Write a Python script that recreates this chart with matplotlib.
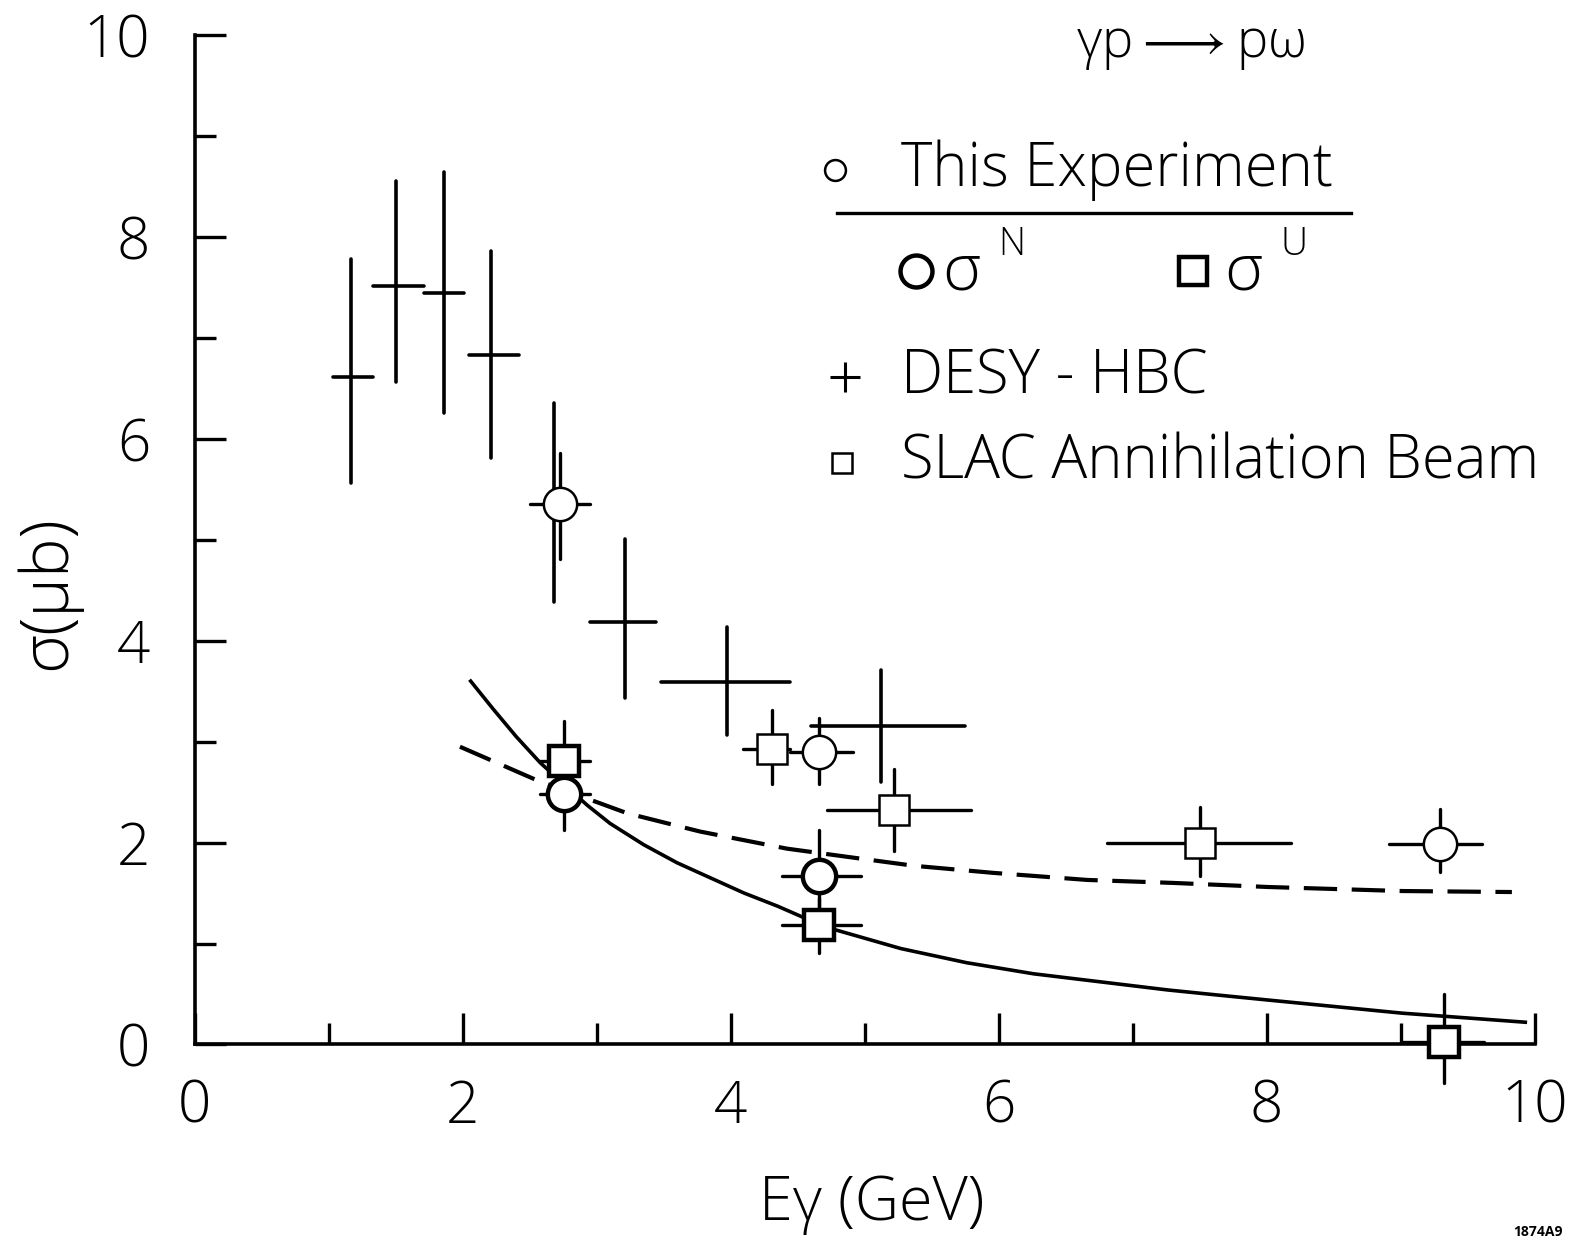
import matplotlib
matplotlib.use("Agg")
import matplotlib.pyplot as plt
import numpy as np

# DESY-HBC points: centre, y error limits, x bin edges
desy_x = [1.17, 1.50, 1.86, 2.21, 2.68, 3.21, 3.97, 5.12]
desy_y = [6.61, 7.52, 7.45, 6.83, 5.36, 4.19, 3.59, 3.16]
desy_ylo = [5.56, 6.56, 6.26, 5.81, 4.38, 3.43, 3.07, 2.60]
desy_yhi = [7.78, 8.56, 8.64, 7.86, 6.36, 5.01, 4.14, 3.71]
desy_xlo = [1.03, 1.33, 1.71, 2.05, 2.68, 2.95, 3.48, 4.60]
desy_xhi = [1.33, 1.71, 2.01, 2.42, 2.68, 3.44, 4.44, 5.75]

# this experiment, total
exp_x = [2.73, 4.66, 9.29]
exp_y = [5.36, 2.90, 1.99]
exp_ylo = [4.81, 2.58, 1.71]
exp_yhi = [5.86, 3.23, 2.33]
exp_xlo = [2.50, 4.44, 8.91]
exp_xhi = [2.95, 4.91, 9.61]

# sigma^N
sn_x = [2.76, 4.66]
sn_y = [2.48, 1.67]
sn_ylo = [2.12, 1.34]
sn_yhi = [2.84, 2.12]
sn_xlo = [2.58, 4.38]
sn_xhi = [2.95, 4.97]

# sigma^U
su_x = [2.76, 4.66, 9.32]
su_y = [2.81, 1.18, 0.02]
su_ylo = [2.45, 0.91, -0.38]
su_yhi = [3.20, 1.45, 0.50]
su_xlo = [2.58, 4.38, 9.00]
su_xhi = [2.95, 4.97, 9.62]

# SLAC annihilation beam
slac_x = [4.31, 5.22, 7.50]
slac_y = [2.93, 2.32, 2.00]
slac_ylo = [2.58, 1.92, 1.67]
slac_yhi = [3.31, 2.73, 2.35]
slac_xlo = [4.09, 4.72, 6.81]
slac_xhi = [4.44, 5.79, 8.18]

# curves
solid_x = [2.06, 2.23, 2.40, 2.58, 2.93, 3.10, 3.35, 3.60, 3.85, 4.10, 4.35, 4.54, 4.77,
           5.27, 5.76, 6.26, 6.76, 7.26, 7.63, 8.01, 9.01, 9.93]
solid_y = [3.60, 3.32, 3.05, 2.79, 2.37, 2.19, 1.98, 1.80, 1.65, 1.50, 1.37, 1.26, 1.14,
           0.95, 0.81, 0.70, 0.62, 0.54, 0.49, 0.44, 0.31, 0.22]
dash_x = [1.98, 2.55, 3.23, 3.77, 4.42, 4.92, 5.37, 5.96, 6.66, 7.31, 8.01, 9.01, 9.83]
dash_y = [2.95, 2.62, 2.29, 2.11, 1.94, 1.85, 1.77, 1.70, 1.63, 1.60, 1.56, 1.52, 1.51]

FONT = ['Open Sans', 'DejaVu Sans']
plt.rcParams['font.family'] = FONT
plt.rcParams['font.weight'] = 'light'

fig = plt.figure(figsize=(15.81, 12.45), dpi=100)
ax = fig.add_axes([0.1231, 0.1611, 0.8476, 0.8106])
ax.set_xlim(0, 10)
ax.set_ylim(0, 10)


def errs(c, lo, hi):
    c = np.array(c)
    return [c - np.array(lo), np.array(hi) - c]


def bars(x, y, xlo, xhi, ylo, yhi, lw=2.4):
    eb = ax.errorbar(x, y, xerr=errs(x, xlo, xhi), yerr=errs(y, ylo, yhi),
                     fmt='none', ecolor='black', elinewidth=lw, capsize=0, zorder=3)
    for c in eb.lines[2]:
        c.set_clip_on(False)
        c.set_capstyle('round')


bars(desy_x, desy_y, desy_xlo, desy_xhi, desy_ylo, desy_yhi, lw=2.6)
bars(exp_x, exp_y, exp_xlo, exp_xhi, exp_ylo, exp_yhi)
bars(sn_x, sn_y, sn_xlo, sn_xhi, sn_ylo, sn_yhi)
bars(su_x, su_y, su_xlo, su_xhi, su_ylo, su_yhi)
bars(slac_x, slac_y, slac_xlo, slac_xhi, slac_ylo, slac_yhi)

ax.plot(solid_x, solid_y, color='black', lw=2.6, zorder=2, solid_joinstyle='round')
ax.plot(dash_x, dash_y, color='black', lw=3.0, dashes=(8, 3.5), zorder=2)

ax.plot(exp_x, exp_y, 'o', ms=24, mfc='white', mec='black', mew=1.8, zorder=5, clip_on=False)
ax.plot(sn_x, sn_y, 'o', ms=24, mfc='white', mec='black', mew=3.2, zorder=5, clip_on=False)
ax.plot(su_x, su_y, 's', ms=21, mfc='white', mec='black', mew=3.2, zorder=5, clip_on=False)
ax.plot(slac_x, slac_y, 's', ms=21, mfc='white', mec='black', mew=1.8, zorder=5, clip_on=False)

# axes
for s in ['top', 'right']:
    ax.spines[s].set_visible(False)
for s in ['left', 'bottom']:
    ax.spines[s].set_linewidth(2.6)
    ax.spines[s].set_zorder(1)
ax.set_xticks(range(0, 11, 2))
ax.set_xticks(range(1, 10, 2), minor=True)
ax.set_yticks(range(0, 11, 2))
ax.set_yticks(range(1, 10, 2), minor=True)
ax.tick_params(which='major', direction='in', length=22, width=2.4, labelsize=42)
ax.tick_params(which='minor', direction='in', length=15, width=2.4)
ax.tick_params(axis='x', pad=24)
ax.tick_params(axis='y', pad=32)

fig.text(0.5517, 0.033, 'E\u03b3 (GeV)', ha='center', va='center', fontsize=44)
fig.text(0.030, 0.524, '\u03c3(\u03bcb)', ha='center', va='center', fontsize=48, rotation=90)

# reaction label
ax.text(6.58, 9.9, '\u03b3p$\\longrightarrow$p\u03c9', fontsize=38, ha='left', va='center')

# legend drawn by hand
ax.plot([4.78], [8.66], 'o', ms=15, mfc='white', mec='black', mew=1.8, clip_on=False)
ax.text(5.27, 8.66, 'This Experiment', fontsize=43, ha='left', va='center')
ax.plot([4.79, 8.63], [8.24, 8.24], color='black', lw=2.4)
ax.plot([5.38], [7.66], 'o', ms=23, mfc='white', mec='black', mew=3.2, clip_on=False)
ax.text(5.58, 7.64, '\u03c3', fontsize=47, ha='left', va='center')
ax.text(6.00, 7.92, 'N', fontsize=27, ha='left', va='center')
ax.plot([7.45], [7.66], 's', ms=20, mfc='white', mec='black', mew=3.2, clip_on=False)
ax.text(7.68, 7.64, '\u03c3', fontsize=47, ha='left', va='center')
ax.text(8.10, 7.92, 'U', fontsize=27, ha='left', va='center')
ax.plot([4.85], [6.61], '+', ms=22, mec='black', mew=2.2, clip_on=False)
ax.text(5.27, 6.61, 'DESY - HBC', fontsize=43, ha='left', va='center')
ax.plot([4.83], [5.76], 's', ms=14, mfc='white', mec='black', mew=1.8, clip_on=False)
ax.text(5.27, 5.76, 'SLAC Annihilation Beam', fontsize=43, ha='left', va='center')

fig.text(0.9726, 0.0105, '1874A9', fontsize=10, fontweight='bold', ha='center', va='center')

fig.savefig('out.png', dpi=100)
